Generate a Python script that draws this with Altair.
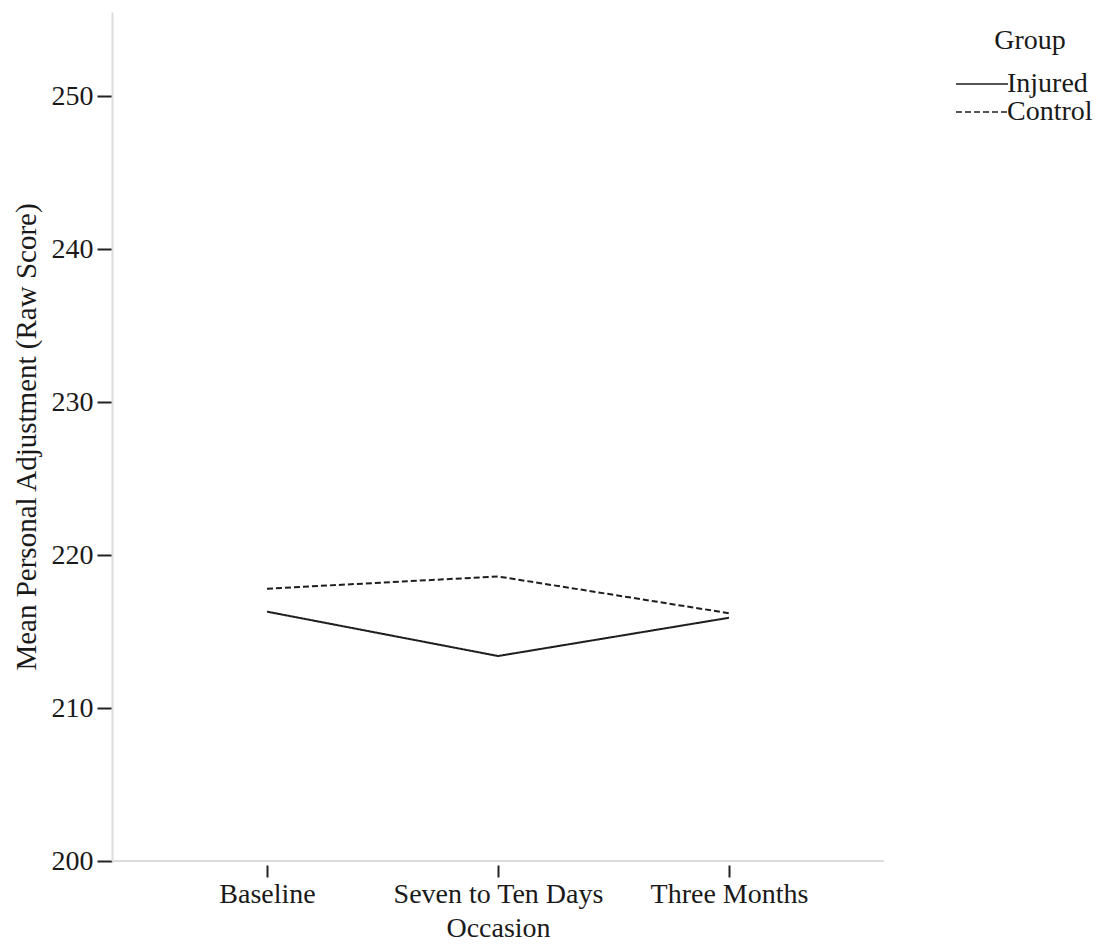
import altair as alt
import pandas as pd

occasions = ["Baseline", "Seven to Ten Days", "Three Months"]
groups = ["Injured", "Control"]
injured = [216.3, 213.4, 215.9]
control = [217.8, 218.6, 216.2]
y_ticks = [200, 210, 220, 230, 240, 250]
y_max = 255.5

rows = []
for g, vals in zip(groups, [injured, control]):
    for o, v in zip(occasions, vals):
        rows.append({"Occasion": o, "Group": g, "Score": v})
df = pd.DataFrame(rows)
base_df = pd.DataFrame({"v": [y_ticks[0]]})

FONT = "Liberation Serif"
FS = 28
W, H = 772, 849

yscale = alt.Scale(domain=[y_ticks[0], y_max], nice=False, zero=False)

lines = alt.Chart(df).mark_line(color="#1e1e1e", strokeWidth=2).encode(
    x=alt.X(
        "Occasion:N",
        sort=occasions,
        scale=alt.Scale(type="point", padding=0.671),
        axis=alt.Axis(
            title="Occasion", domain=False, offset=4, tickSize=12, tickWidth=2,
            tickColor="#222222", labelAngle=0, labelPadding=3, titlePadding=6,
            labelLimit=0,
        ),
    ),
    y=alt.Y(
        "Score:Q",
        scale=yscale,
        axis=alt.Axis(
            title="Mean Personal Adjustment (Raw Score)", values=y_ticks, grid=False,
            domainColor="#dcdcdc", domainWidth=2, tickColor="#222222", tickSize=15,
            tickWidth=2, labelPadding=4, titlePadding=10, titleFontSize=29,
        ),
    ),
    strokeDash=alt.StrokeDash(
        "Group:N",
        sort=groups,
        scale=alt.Scale(domain=groups, range=[[1, 0], [6, 3]]),
        legend=alt.Legend(
            title="Group", orient="none", legendX=856, legendY=15, padding=0,
            titleAnchor="middle", titlePadding=15, symbolType="M-2,0H2",
            symbolSize=676, symbolStrokeWidth=1.5, symbolStrokeColor="#1e1e1e",
            symbolFillColor="transparent",
            labelOffset=11, rowPadding=0,
        ),
    ),
)

baseline = alt.Chart(base_df).mark_rule(color="#dcdcdc", strokeWidth=2).encode(
    y=alt.Y("v:Q", scale=yscale)
)

chart = (
    alt.layer(baseline, lines)
    .properties(
        width=W, height=H,
        autosize=alt.AutoSizeParams(type="none"),
        padding={"left": 104, "top": 4, "right": 217, "bottom": 82},
        background="white",
    )
    .configure_view(stroke=None)
    .configure_axis(
        labelFont=FONT, titleFont=FONT, labelFontSize=FS, titleFontSize=FS,
        labelColor="#1a1a1a", titleColor="#1a1a1a", titleFontWeight="normal",
    )
    .configure_legend(
        labelFont=FONT, titleFont=FONT, labelFontSize=FS, titleFontSize=FS,
        labelColor="#1a1a1a", titleColor="#1a1a1a", titleFontWeight="normal",
    )
)

chart.save("out.html", embed_options={"renderer": "svg", "actions": False})
